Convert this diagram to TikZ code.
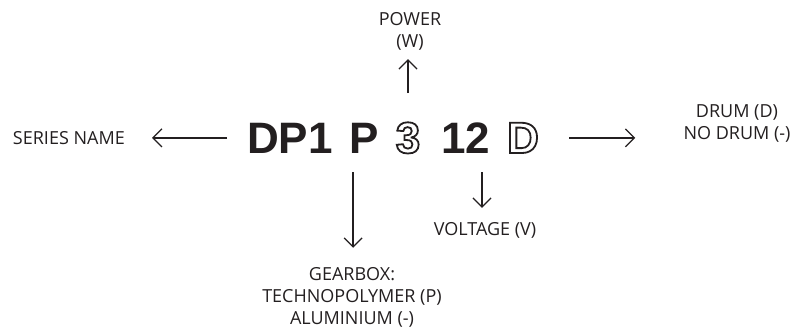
\documentclass[tikz,border=0pt]{standalone}
\usepackage{xcolor}
\usepackage{fontspec}
\setmainfont{Open Sans}
\newfontfamily\codefont{Liberation Sans}
\usepackage{tikz}
\usetikzlibrary{arrows.meta, positioning}
\definecolor{ink}{HTML}{231F20}
\newcommand{\outlined}[1]{\special{pdf:literal direct 1 Tr 0.137 0.122 0.125 RG 1.8 w}#1\special{pdf:literal direct 0 Tr}}

\begin{document}
\begin{tikzpicture}[x=1pt, y=1pt]
\tikzstyle{code} = [inner sep=0, anchor=base, text=ink, font=\codefont\bfseries\fontsize{44}{44}\selectfont]
\tikzstyle{label} = [inner sep=0, align=center, text=ink, font=\fontsize{18}{22}\selectfont]
\tikzstyle{arr} = [draw=ink, line width=1.3pt, -{Straight Barb[length=9pt, width=18pt, line width=1.3pt]}]

\useasboundingbox (0,0) rectangle (792,-327);

\node (series) [code] at (290,-153) {DP1};
\node (gbx) [code] at (364,-153) {P};
\node (pwr) [code] at (408,-153) {\outlined{3}};
\node (volt) [code] at (466,-153) {12};
\node (drumc) [code] at (523,-153) {\outlined{D}};

\node (serieslbl) [label, anchor=east] at (125,-138) {SERIES NAME};
\node (powerlbl) [label] at (410,-31) {POWER\\(W)};
\node (gearboxlbl) [label] at (352,-297) {GEARBOX:\\TECHNOPOLYMER (P)\\ALUMINIUM (-)};
\node (voltagelbl) [label] at (485,-230) {VOLTAGE (V)};
\node (drumlbl) [label] at (737,-123.5) {DRUM (D)\\NO DRUM (-)};

\coordinate (pstem) at ([xshift=4pt]gbx.south west);
\coordinate (vstem) at ([xshift=16pt]volt.south);

\draw[arr, shorten <=20pt, shorten >=27pt] (series.west) -- (series.west -| serieslbl.east);
\draw[arr, shorten <=30pt, shorten >=48pt] (drumc.east) -- (drumc.east -| drumlbl.west);
\draw[arr, shorten <=29pt, shorten >=9pt] (pwr.north) -- (pwr.north |- powerlbl.south);
\draw[arr, shorten <=19pt, shorten >=19pt] (pstem) -- (pstem |- gearboxlbl.north);
\draw[arr, shorten <=19pt, shorten >=14pt] (vstem) -- (vstem |- voltagelbl.north);

\end{tikzpicture}
\end{document}
